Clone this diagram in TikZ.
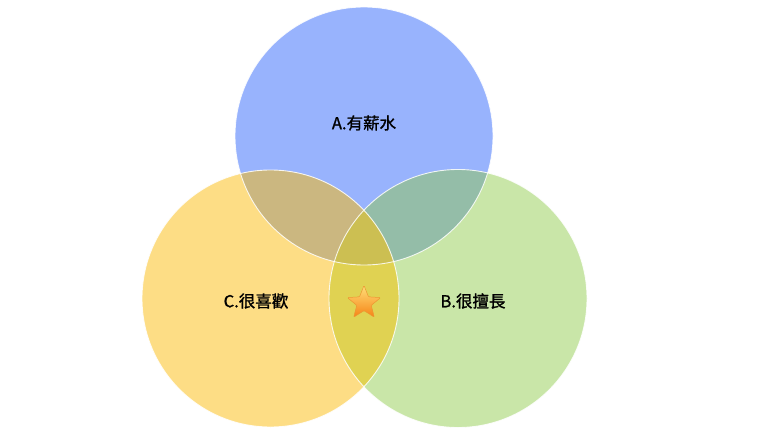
\documentclass[tikz,border=0pt]{standalone}
\usepackage{fontspec}
\newfontfamily\cjk[FakeBold=1.3]{Noto Sans CJK TC}
\usetikzlibrary{shapes.geometric}

\definecolor{salary}{RGB}{152,179,253}
\definecolor{like}{RGB}{253,221,133}
\definecolor{good}{RGB}{201,230,168}
\definecolor{salarylike}{RGB}{203,183,128}
\definecolor{salarygood}{RGB}{148,189,168}
\definecolor{likegood}{RGB}{224,210,82}
\definecolor{allthree}{RGB}{204,191,82}

\tikzset{
    label/.style={font=\cjk\fontsize{16.5}{19}\selectfont, text=black},
    rim/.style={white, line width=0.9pt, opacity=0.85}
}

\begin{document}
\begin{tikzpicture}[x=1pt,y=-1pt]
    \useasboundingbox (0,0) rectangle (768,433);

    \coordinate (ca) at (364,136);
    \coordinate (cc) at (270.5,298.5);
    \coordinate (cb) at (458,298.5);

    % the three sets
    \fill[salary] (ca) circle (129);
    \fill[like] (cc) circle (128.5);
    \fill[good] (cb) circle (129);

    % overlaps
    \begin{scope}
        \clip (ca) circle (129);
        \fill[salarylike] (cc) circle (128.5);
        \fill[salarygood] (cb) circle (129);
    \end{scope}
    \begin{scope}
        \clip (cc) circle (128.5);
        \fill[likegood] (cb) circle (129);
        \clip (cb) circle (129);
        \fill[allthree] (ca) circle (129);
    \end{scope}

    \draw[rim] (ca) circle (129);
    \draw[rim] (cc) circle (128.5);
    \draw[rim] (cb) circle (129);

    \node[label] (a) at (364,123) {A.有薪水};
    \node[label] (c) at (256,301) {C.很喜歡};
    \node[label] (b) at (473,301) {B.很擅長};

    \node[star, star points=5, star point ratio=2.3, minimum size=35pt, inner sep=0pt,
          rounded corners=1pt,
          top color={rgb,255:red,255;green,222;blue,120}, bottom color={rgb,255:red,246;green,132;blue,22},
          draw={rgb,255:red,236;green,150;blue,50}, line width=0.5pt] (s) at (364,303) {};
\end{tikzpicture}
\end{document}
